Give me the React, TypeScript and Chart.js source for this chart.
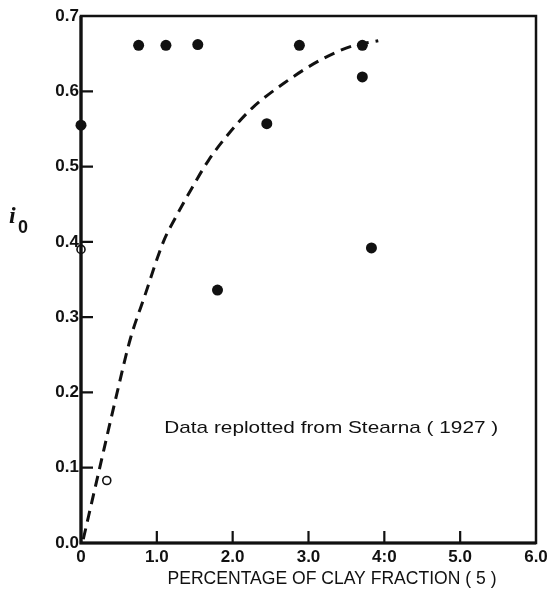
import React, { useEffect, useRef } from "react";
import { Chart, registerables } from "chart.js";

Chart.register(...registerables);

// Filled data points (clay fraction %, i0)
const filledX = [0, 0.76, 1.12, 1.54, 1.8, 2.45, 2.88, 3.71, 3.71, 3.83];
const filledY = [0.555, 0.661, 0.661, 0.662, 0.336, 0.557, 0.661, 0.661, 0.619, 0.392];

// Open data points
const openX = [0, 0.34];
const openY = [0.39, 0.083];

// Dashed fitted curve
const curveX = [0.03, 0.24, 0.47, 0.65, 0.84, 1.09, 1.24, 1.46, 1.68, 1.95, 2.25, 2.68, 3.13, 3.57, 3.92];
const curveY = [0.005, 0.097, 0.197, 0.271, 0.328, 0.401, 0.431, 0.471, 0.508, 0.544, 0.577, 0.611, 0.64, 0.66, 0.667];

// Tick labels
const xTickLabels = ["0", "1.0", "2.0", "3.0", "4:0", "5.0", "6.0"];
const yTickLabels = ["0.0", "0.1", "0.2", "0.3", "0.4", "0.5", "0.6", "0.7"];
const xInnerTicks = [1, 2, 3, 4, 5];
const yInnerTicks = [0.1, 0.2, 0.3, 0.4, 0.5, 0.6];

// Texts
const xTitle = "PERCENTAGE OF CLAY FRACTION ( 5 )";
const noteText = "Data replotted from Stearna ( 1927 )";
const notePos = { x: 3.3, y: 0.153 };

const INK = "#111";

function fitText(ctx: CanvasRenderingContext2D, text: string, cx: number, cy: number, targetW: number) {
  const w = ctx.measureText(text).width;
  const s = targetW / w;
  ctx.save();
  ctx.translate(cx, cy);
  ctx.scale(s, 1);
  ctx.textAlign = "center";
  ctx.textBaseline = "middle";
  ctx.fillText(text, 0, 0);
  ctx.restore();
}

const decorPlugin = {
  id: "decor",
  afterDraw(chart: any) {
    const { ctx, chartArea, scales } = chart;
    const { left, right, top, bottom } = chartArea;
    ctx.save();
    ctx.strokeStyle = INK;
    // frame
    ctx.lineWidth = 2.5;
    ctx.strokeRect(left, top, right - left, bottom - top);
    ctx.lineWidth = 3.2;
    ctx.beginPath();
    ctx.moveTo(left, top);
    ctx.lineTo(left, bottom);
    ctx.lineTo(right, bottom);
    ctx.stroke();
    // inward ticks
    ctx.lineWidth = 2.2;
    ctx.beginPath();
    for (const v of xInnerTicks) {
      const px = scales.x.getPixelForValue(v);
      ctx.moveTo(px, bottom);
      ctx.lineTo(px, bottom - 12);
    }
    for (const v of yInnerTicks) {
      const py = scales.y.getPixelForValue(v);
      ctx.moveTo(left, py);
      ctx.lineTo(left + 12, py);
    }
    ctx.stroke();
    // note text
    ctx.fillStyle = INK;
    ctx.font = '17px "Liberation Sans", Arial, sans-serif';
    fitText(ctx, noteText, scales.x.getPixelForValue(notePos.x), scales.y.getPixelForValue(notePos.y), 334);
    // x title
    ctx.font = '18px "Liberation Sans", Arial, sans-serif';
    fitText(ctx, xTitle, 332, 579, 329);
    // y title i0
    ctx.font = 'bold italic 24px "Liberation Serif", serif';
    ctx.textAlign = "left";
    ctx.textBaseline = "alphabetic";
    ctx.fillText("i", 9, 223);
    ctx.font = 'bold 18px "Liberation Sans", Arial, sans-serif';
    ctx.fillText("0", 18, 233);
    ctx.restore();
  },
};

export default function App() {
  const ref = useRef<HTMLCanvasElement>(null);
  useEffect(() => {
    if (!ref.current) return;
    const tickFont = { family: '"Liberation Sans", Arial, sans-serif', size: 17, weight: "bold" as const };
    const chart = new Chart(ref.current, {
      type: "scatter",
      data: {
        datasets: [
          {
            label: "curve",
            data: curveX.map((x, i) => ({ x, y: curveY[i] })),
            showLine: true,
            borderColor: INK,
            borderWidth: 3,
            borderDash: [11, 7],
            pointRadius: 0,
            cubicInterpolationMode: "monotone",
            fill: false,
            clip: false,
          } as any,
          {
            label: "filled",
            data: filledX.map((x, i) => ({ x, y: filledY[i] })),
            pointRadius: 5.5,
            pointBackgroundColor: INK,
            pointBorderColor: INK,
            pointBorderWidth: 0,
            clip: false,
          } as any,
          {
            label: "open",
            data: openX.map((x, i) => ({ x, y: openY[i] })),
            pointRadius: 4,
            pointBackgroundColor: "#fff",
            pointBorderColor: INK,
            pointBorderWidth: 1.6,
            clip: false,
          } as any,
        ],
      },
      options: {
        responsive: false,
        animation: false,
        layout: { padding: { left: 0, top: 16, right: 17, bottom: 0 } },
        plugins: { legend: { display: false }, tooltip: { enabled: false } },
        scales: {
          x: {
            type: "linear",
            min: 0,
            max: 6,
            afterFit: (s: any) => {
              s.height = 49;
            },
            grid: { display: false, drawTicks: false },
            border: { display: false },
            ticks: {
              stepSize: 1,
              autoSkip: false,
              maxRotation: 0,
              padding: 4,
              color: INK,
              font: tickFont,
              callback: (v: any) => xTickLabels[Math.round(Number(v))] ?? "",
            },
          },
          y: {
            type: "linear",
            min: 0,
            max: 0.7,
            afterFit: (s: any) => {
              s.width = 81;
            },
            grid: { display: false, drawTicks: false },
            border: { display: false },
            ticks: {
              stepSize: 0.1,
              autoSkip: false,
              padding: 2,
              color: INK,
              font: tickFont,
              callback: (v: any) => yTickLabels[Math.round(Number(v) * 10)] ?? "",
            },
          },
        },
      },
      plugins: [decorPlugin],
    });
    return () => chart.destroy();
  }, []);
  return (
    <div style={{ position: "fixed", left: 0, top: 0, width: 553, height: 592, background: "#fff" }}>
      <canvas ref={ref} width={553} height={592} style={{ display: "block" }} />
    </div>
  );
}
